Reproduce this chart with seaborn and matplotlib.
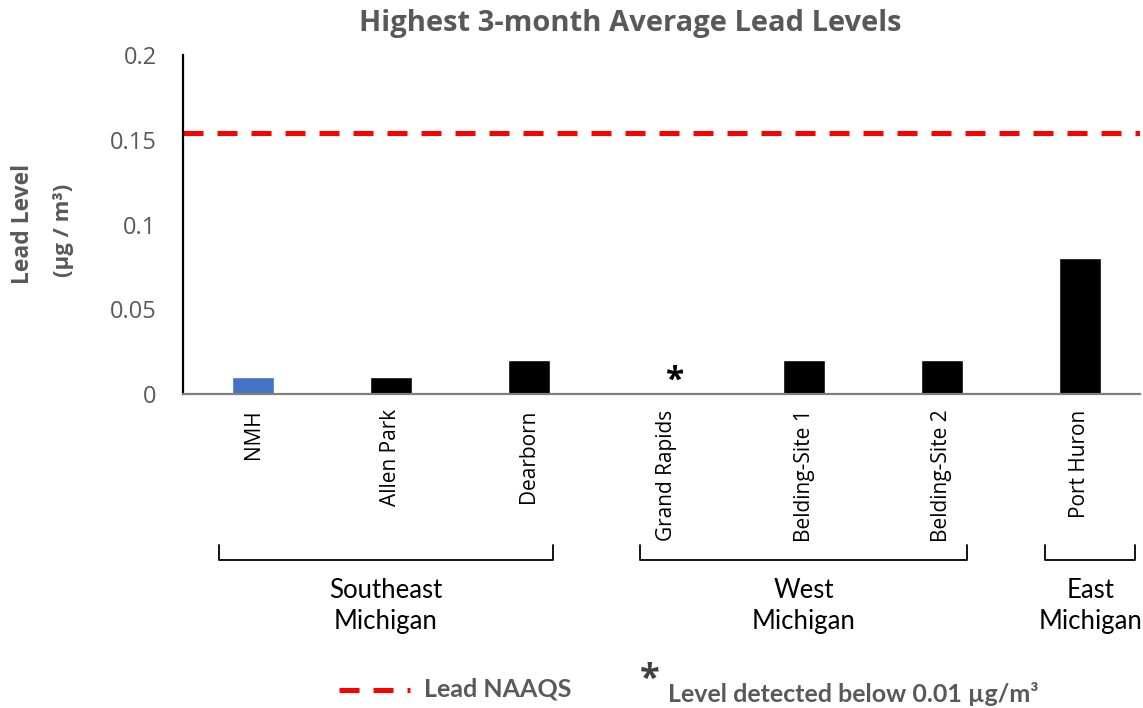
import matplotlib
matplotlib.use("Agg")
import matplotlib.pyplot as plt
from matplotlib.lines import Line2D
import seaborn as sns
import pandas as pd

sites = ["NMH", "Allen Park", "Dearborn", "Grand Rapids", "Belding-Site 1", "Belding-Site 2", "Port Huron"]
values = [0.01, 0.01, 0.02, 0.0, 0.02, 0.02, 0.08]
below_detection = [False, False, False, True, False, False, False]
bar_colors = ["#4472C4", "#000000", "#000000", "#000000", "#000000", "#000000", "#000000"]
naaqs = 0.154
groups = ["Southeast\nMichigan", "West\nMichigan", "East\nMichigan"]
group_start = [0, 3, 6]
group_end = [2, 5, 6]
yticks = [0, 0.05, 0.1, 0.15, 0.2]
ytick_labels = ["0", "0.05", "0.1", "0.15", "0.2"]

sns.set_theme(style="white")
plt.rcParams['font.family'] = ['Open Sans', 'DejaVu Sans']

fig = plt.figure(figsize=(11.43, 7.08), dpi=100)
ax = fig.add_axes([183/1143, 1-394/708, (1140-183)/1143, (394-55)/708])

df = pd.DataFrame({"site": sites, "value": values})
sns.barplot(data=df, x="site", y="value", hue="site", palette=bar_colors,
            width=0.305, legend=False, ax=ax, saturation=1)

ax.set_xlim(-0.508, 6.437)
ax.set_ylim(0, 0.2)
ax.axhline(naaqs, color="#FF0000", lw=3.6, dashes=(4, 2.8))

for i, b in enumerate(below_detection):
    if b:
        ax.text(i + 0.06, -0.002, "*", ha="center", va="bottom", fontsize=24,
                fontweight="bold", color="black")

ax.set_yticks(yticks)
ax.set_yticklabels(ytick_labels, fontsize=17, color="#595959")
ax.tick_params(axis="y", length=0, pad=19)
ax.set_xticks(range(len(sites)))
ax.set_xticklabels(sites, rotation=90, fontsize=15, color="black")
ax.tick_params(axis="x", length=0, pad=11)
ax.set_xlabel("")
ax.set_ylabel("")

for s in ["top", "right"]:
    ax.spines[s].set_visible(False)
ax.spines["left"].set_color("black")
ax.spines["left"].set_linewidth(1.6)
ax.spines["bottom"].set_color("#7f7f7f")
ax.spines["bottom"].set_linewidth(1.6)

# group brackets
trans = ax.get_xaxis_transform()
y_top = (394-545)/339
y_bot = (394-560)/339
left_pad = [0.25, 0.19, 0.25]
for g, s, e, lp in zip(groups, group_start, group_end, left_pad):
    x0 = s - lp
    x1 = e + 0.18 if e < len(sites) - 1 else e + 0.4
    ax.plot([x0, x0, x1, x1], [y_top, y_bot, y_bot, y_top], transform=trans,
            color="black", lw=1.3, clip_on=False)
    ax.text((x0 + x1) / 2, (394-606)/339, g, transform=trans, ha="center", va="center",
            fontsize=18.5, family=["Lato", "DejaVu Sans"], linespacing=1.25, color="black")

fig.text(630/1143, 1-24/708, "Highest 3-month Average Lead Levels", ha="center", va="center",
         fontsize=21, fontweight="bold", color="#595959")
fig.text(23/1143, 1-224/708, "Lead Level", rotation=90, ha="center", va="center",
         fontsize=16.5, fontweight="bold", color="#595959")
fig.text(63/1143, 1-230/708, "(µg / m³)", rotation=90, ha="center", va="center",
         fontsize=16, fontweight="bold", color="#595959")

# bottom legend
fig.add_artist(Line2D([339/1143, 410/1143], [1-690/708, 1-690/708], color="#FF0000",
                      lw=3.6, dashes=(4, 2.8), transform=fig.transFigure))
fig.text(424/1143, 1-689/708, "Lead NAAQS", ha="left", va="center", fontsize=18,
         family=["Lato", "DejaVu Sans"], color="#595959", fontweight="bold")
fig.text(650/1143, 1-680/708, "*", ha="center", va="center", fontsize=26,
         fontweight="bold", color="#404040")
fig.text(668/1143, 1-694/708, "Level detected below 0.01 µg/m³", ha="left", va="center",
         fontsize=18, family=["Lato", "DejaVu Sans"], color="#595959", fontweight="bold")

fig.savefig("out.png", dpi=100)
